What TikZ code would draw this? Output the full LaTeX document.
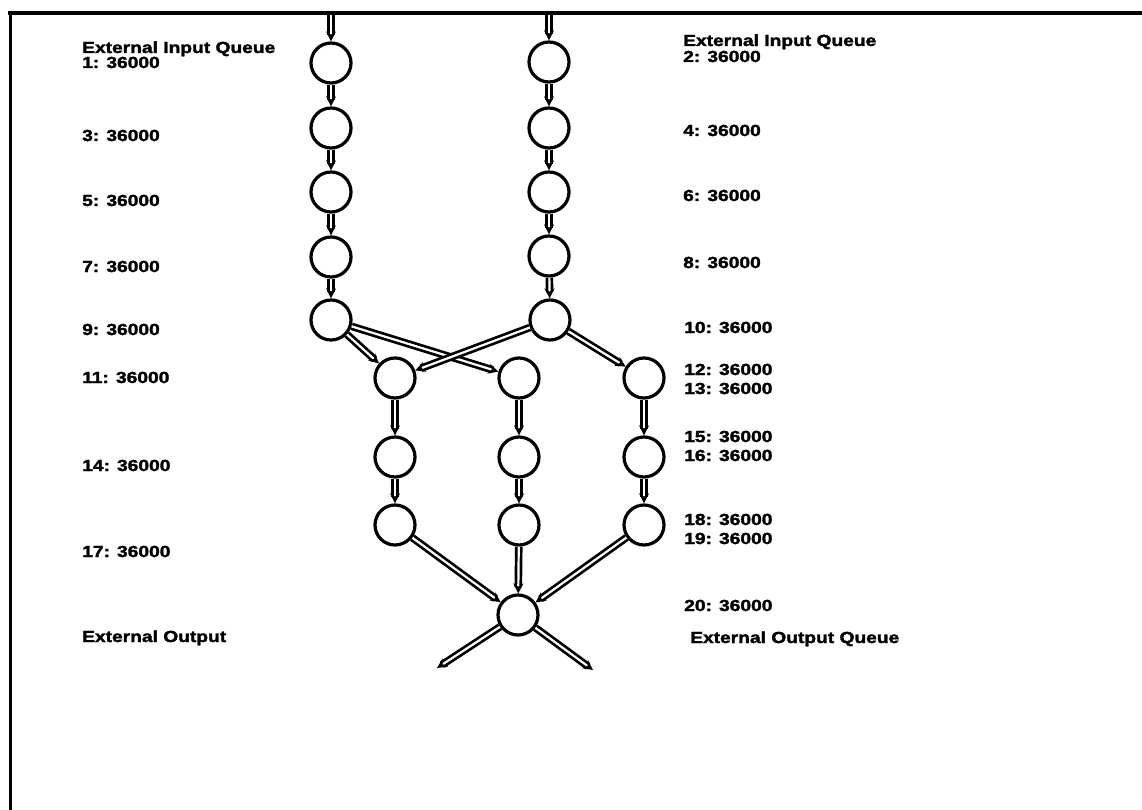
\documentclass[tikz,border=0pt]{standalone}
\usepackage{fontspec}
\newfontfamily\lab[FakeStretch=1.2,FakeBold=2]{Liberation Sans}
\usetikzlibrary{arrows.meta}
\begin{document}
\begin{tikzpicture}[x=1pt,y=-1pt,
  st/.style={circle,draw,line width=3.2pt,minimum size=40pt,inner sep=0pt,fill=white},
  fl/.style={draw,line width=2.7pt,double=white,double distance=2.2pt,-{Stealth[length=10pt,width=10pt]}},
  lb/.style={anchor=base west,inner sep=0pt,font=\lab\bfseries\fontsize{16}{18}\selectfont}]
\useasboundingbox (0,0) rectangle (1142,810);
% frame
\draw[line width=3.5pt] (8,13) -- (1142,13);
\draw[line width=3pt] (10,13) -- (10,810);
% nodes
\node[st] (L1) at (331,63) {};
\node[st] (L2) at (331,128) {};
\node[st] (L3) at (331,192) {};
\node[st] (L4) at (331,257) {};
\node[st] (L5) at (331,320) {};
\node[st] (R1) at (549,62) {};
\node[st] (R2) at (549,128) {};
\node[st] (R3) at (549,192) {};
\node[st] (R4) at (549,256) {};
\node[st] (R5) at (550,320) {};
\node[st] (A1) at (395,378) {};
\node[st] (B1) at (519,378) {};
\node[st] (C1) at (644,378) {};
\node[st] (A2) at (395,457) {};
\node[st] (B2) at (519,457) {};
\node[st] (C2) at (644,457) {};
\node[st] (A3) at (395,525) {};
\node[st] (B3) at (519,525) {};
\node[st] (C3) at (644,525) {};
\node[st] (D) at (518,615) {};
\coordinate (inL) at (331,15);
\coordinate (inR) at (549,15);
\coordinate (outL) at (437,668);
\coordinate (outR) at (593,670);
% connectors
\draw[fl] (inL) -- (L1);
\draw[fl] (L1) -- (L2);
\draw[fl] (L2) -- (L3);
\draw[fl] (L3) -- (L4);
\draw[fl] (L4) -- (L5);
\draw[fl] (inR) -- (R1);
\draw[fl] (R1) -- (R2);
\draw[fl] (R2) -- (R3);
\draw[fl] (R3) -- (R4);
\draw[fl] (R4) -- (R5);
\draw[fl] (L5) -- (A1);
\draw[fl] (L5) -- (B1);
\draw[fl] (R5) -- (A1);
\draw[fl] (R5) -- (C1);
\draw[fl] (A1) -- (A2);
\draw[fl] (A2) -- (A3);
\draw[fl] (B1) -- (B2);
\draw[fl] (B2) -- (B3);
\draw[fl] (C1) -- (C2);
\draw[fl] (C2) -- (C3);
\draw[fl] (A3) -- (D);
\draw[fl] (B3) -- (D);
\draw[fl] (C3) -- (D);
\draw[fl] (D) -- (outL);
\draw[fl] (D) -- (outR);
% left labels
\node[lb] (t1) at (82,53) {External Input Queue};
\node[lb] (t2) at (82,68) {1: 36000};
\node[lb] (t3) at (82,141) {3: 36000};
\node[lb] (t4) at (82,206) {5: 36000};
\node[lb] (t5) at (82,272) {7: 36000};
\node[lb] (t6) at (82,335) {9: 36000};
\node[lb] (t7) at (82,383) {11: 36000};
\node[lb] (t8) at (82,471) {14: 36000};
\node[lb] (t9) at (82,557) {17: 36000};
\node[lb] (t10) at (82,642) {External Output};
% right labels
\node[lb] (r1) at (683,46) {External Input Queue};
\node[lb] (r2) at (683,62) {2: 36000};
\node[lb] (r3) at (683,136) {4: 36000};
\node[lb] (r4) at (683,201) {6: 36000};
\node[lb] (r5) at (683,268) {8: 36000};
\node[lb] (r6) at (684,333) {10: 36000};
\node[lb] (r7) at (684,375) {12: 36000};
\node[lb] (r8) at (684,394) {13: 36000};
\node[lb] (r9) at (684,442) {15: 36000};
\node[lb] (r10) at (684,461) {16: 36000};
\node[lb] (r11) at (684,525) {18: 36000};
\node[lb] (r12) at (684,544) {19: 36000};
\node[lb] (r13) at (684,611) {20: 36000};
\node[lb] (r14) at (690,643) {External Output Queue};
\end{tikzpicture}
\end{document}
